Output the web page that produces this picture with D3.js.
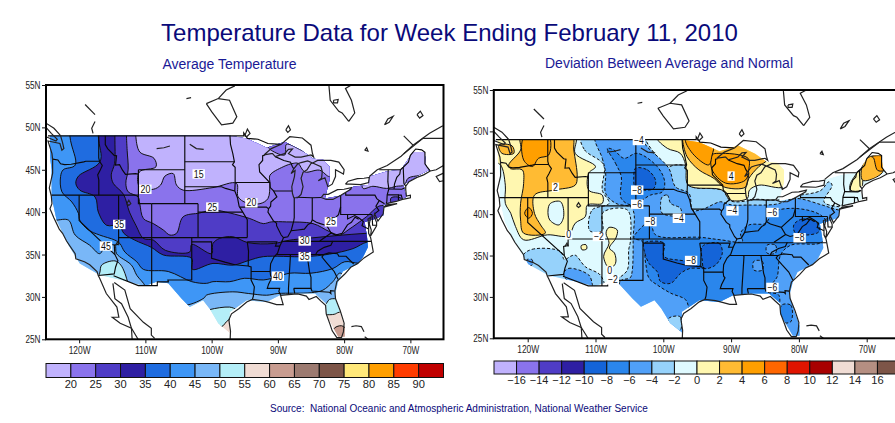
<!DOCTYPE html>
<html><head><meta charset="utf-8">
<script src="https://cdnjs.cloudflare.com/ajax/libs/d3/7.8.5/d3.min.js"></script>
<style>html,body{margin:0;padding:0;background:#fff;overflow:hidden}svg{display:block}text{font-family:"Liberation Sans",Arial,sans-serif}</style>
</head><body><svg id="c" width="895" height="423"></svg>
<script>
const titleText="Temperature Data for Week Ending February 11, 2010";
const leftTitle="Average Temperature";
const rightTitle="Deviation Between Average and Normal";
const sourceText="Source:  National Oceanic and Atmospheric Administration, National Weather Service";
const lonTicks=[-120,-110,-100,-90,-80,-70];
const latTicks=[25,30,35,40,45,50,55];
const tempLevels=[20,25,30,35,40,45,50,55,60,65,70,75,80,85,90];
const devLevels=[-16,-14,-12,-10,-8,-6,-4,-2,0,2,4,6,8,10,12,14,16];
const tempColors=["#c0b2fd","#8a73ec","#4f3cc6","#2e1fa3","#1f6ce0","#3e96f6","#79b7f7","#b4eef8","#f0dcd4","#c89c90","#9c7a70","#7d5548","#ffe87a","#ff9f00","#ff3c00","#c00000"];
const devColors=["#c0b2fd","#8a73ec","#4f3cc6","#2e1fa3","#1464d8","#2a86ec","#50a0f8","#96d2fb","#dffaff","#fff7b0","#ffbb33","#ff9f00","#ff6600","#e01400","#a80000","#f0dcd4","#b58f82","#7d5548"];

const usMask=[[-124.4,49],[-97.25,49],[-94.7,48.7],[-91.7,47.6],[-88.95,48.3],[-86.45,47.3],[-84.7,46.3],[-83.2,46.2],[-82.2,45.35],[-82.2,43.8],[-82.9,41.6],[-80.2,42],[-78.65,43],[-76.4,43.2],[-76.15,44.2],[-73.6,44.8],[-71.4,45],[-71.1,45.35],[-69.6,47.1],[-67.85,47.1],[-67.6,45.35],[-67.1,45],[-69.1,44.2],[-71.1,43.2],[-70.6,41.8],[-74.1,40.8],[-74.1,39.6],[-75.4,39.2],[-76.9,38.85],[-76.55,37.1],[-76.4,35.9],[-77.15,34.7],[-77.9,33.95],[-80.2,33],[-80.9,31.8],[-81.4,30.2],[-80.65,28.2],[-79.9,26.5],[-79.9,25.3],[-80.9,25.3],[-82.7,27.85],[-82.7,29.2],[-84.4,30.4],[-87.45,30.4],[-89.7,30.2],[-91.7,29.4],[-94.7,29.6],[-97.25,28.2],[-97.25,25.7],[-99,26.85],[-100.3,28.6],[-101.3,29.6],[-103.3,28.8],[-104.55,29.8],[-106.55,31.6],[-108.3,31.8],[-110.1,31.3],[-112.6,31.8],[-116.9,32.6],[-119.9,33.95],[-121.6,36.1],[-123.4,39.05],[-124.15,41.8],[-124.15,45],[-124.4,46.5]];

// Average temperature: nested regions, warmest first
const tMiami=[[-81.6,26.2],[-80.4,26.6],[-79.5,26],[-80,24.8],[-81.2,24.8]];
const tBelow55=[[-126,50],[-64,50],[-64,28.2],[-80.7,28.2],[-81.5,27.95],[-84,27.9],[-96,27.5],[-97.5,27.25],[-98.5,26.5],[-99.3,26.85],[-100,26],[-126,26]];
const tBelow50=[[-126,50],[-64,50],[-64,30],[-81,29.8],[-82.2,29.7],[-83,29],[-90,28],[-96,28.5],[-97.3,28.8],[-100.3,28.5],[-102,28],[-112,28],[-112.6,31.5],[-113.7,33.75],[-114.6,34.25],[-116.6,33.75],[-116.9,32.8],[-118,31],[-126,31]];
const tBelow45=[[-126,39.1],[-123.6,39.05],[-121.6,39.05],[-120.6,37.3],[-118.4,36.1],[-116.9,35.1],[-116.1,35.9],[-114.6,36.1],[-114.35,35.1],[-112.1,33.75],[-111.3,32.55],[-110,31.2],[-110,29.5],[-104,29],[-101.1,29.9],[-100.8,30.2],[-96.8,30.6],[-94.4,30.4],[-91.7,30.2],[-90,30.4],[-84.95,30.5],[-83.2,30.8],[-81.7,31.8],[-80.7,32.8],[-79.9,32.6],[-76,33],[-70,33],[-60,60],[-126,60]];
const tBelow40=[[-121.4,49],[-120.6,45.55],[-122.4,45],[-122.8,44.2],[-122.6,42.4],[-121.1,41.2],[-120.1,39.85],[-119.9,39.05],[-118.6,37.9],[-116.9,37.3],[-114.6,36.7],[-113.85,36.3],[-113.1,35.3],[-111.3,34.15],[-110.3,33.25],[-106.55,33],[-103,31.8],[-100.8,31.6],[-99.8,31.8],[-97.25,31.8],[-95,32.2],[-92.2,32],[-90,32.4],[-88.2,32.8],[-85,32.8],[-81.7,33.35],[-79.9,34.15],[-77.65,33.95],[-70,34],[-60,60],[-121.4,60]];
const tBelow35=[[-117.1,49],[-116.85,45.95],[-120.1,44.25],[-120.5,43.4],[-119.9,42.6],[-117.6,41.8],[-117.1,40],[-115.85,38.45],[-113.95,38.45],[-113.25,37.5],[-111.6,36.7],[-109.1,35.85],[-107.3,34.95],[-103,34.55],[-102.9,33.25],[-99.8,33.95],[-96.75,33.75],[-94.4,34.3],[-92.2,34.75],[-85.95,34.75],[-82.2,35.05],[-78.65,35.7],[-76.4,36.5],[-70,36.5],[-60,60],[-117.1,60]];
const tBelow30=[[-114.6,49],[-114.65,45.75],[-115.15,44.4],[-114.85,43.4],[-113.3,42.1],[-112.4,40],[-111.4,38.4],[-110.3,36.9],[-108.8,36.7],[-107,35.5],[-103.3,35.3],[-103,36.2],[-100,35.1],[-99.8,36.3],[-98.8,36.9],[-96.8,37.1],[-94.5,36.4],[-90.7,36.3],[-88.2,36.7],[-85.7,36.9],[-76.65,37.5],[-70,37.6],[-60,60],[-114.6,60]];
const tBelow25=[[-112.85,49],[-112.75,47.3],[-112.6,45],[-112.95,43.4],[-112.6,42.4],[-111.1,41.8],[-110.85,41],[-110.3,39.25],[-108.8,38.65],[-107.3,37.9],[-106.3,37.3],[-105.3,37.5],[-104.3,39.45],[-101.8,39.9],[-99.8,40.25],[-97.25,39.9],[-94.25,39.25],[-92.2,38.65],[-91,38.85],[-88.7,38.85],[-84.7,38.65],[-82.2,37.7],[-80.65,37.3],[-79.4,37.9],[-76.65,39.45],[-74.9,40.65],[-74.1,40.8],[-70,40.8],[-60,60],[-112.85,60]];
const tBelow20a=[[-111.45,49],[-110.85,47.1],[-108.7,46.35],[-108.4,45.35],[-110.9,44.75],[-110.9,43],[-108.8,42.7],[-107.7,43.2],[-107.05,44.25],[-105.8,44.55],[-105.3,43.2],[-104.3,42.6],[-99.8,42.9],[-96.25,43.4],[-96,41.8],[-94.75,41.1],[-92.7,41],[-91.5,41.6],[-91.2,43.4],[-91.2,44.35],[-89.2,45.35],[-87.7,45.75],[-86.95,45.75],[-85.95,44.75],[-83.7,44.95],[-82.2,44.2],[-81.2,45],[-82.2,46.15],[-84.7,46.6],[-86.7,47.4],[-88.7,48],[-88.95,46.75],[-91,47.3],[-91.7,47.9],[-92.2,49.3],[-111.45,49.3]];
const tBelow20b=[[-77.15,42.8],[-75.65,43.05],[-73.6,42.8],[-72.1,43.05],[-70.9,43.2],[-70.35,44],[-68.6,44.35],[-67.1,44.75],[-66,46],[-66,48],[-72,48],[-76,46],[-77.15,44]];
const tPatchCT=[[-72.9,41.7],[-71.5,41.7],[-71.3,41.2],[-72.9,41.1]];
const tempRings=[tMiami,tBelow55,tBelow50,tBelow45,tBelow40,tBelow35,tBelow30,tBelow25,tBelow20a,tBelow20b,tPatchCT];
const tempRingValues=[62,52,47,42,37,32,27,22,17,17,27];
const tempLabels=["15","20","25","20","35","45","25","30","35","40"];
const tempLabelLon=[-101.95,-110,-99.9,-94,-113.95,-115.95,-82,-85.95,-85.95,-90];
const tempLabelLat=[44.5,42.7,40.6,41.1,38.55,36,38.85,36.6,34.75,32.45];

// Deviation from normal
const dA2=[[-120.8,34.9],[-119.35,35.75],[-115.15,35.5],[-114.6,34.5],[-113.7,34.9],[-113,35.05],[-111.5,33.65],[-109.3,32.65],[-108.8,31.25],[-115,30],[-121,30]];
const dMain2=[[-112.1,49.4],[-111.6,47.75],[-108.8,45.95],[-109,42.9],[-108,41.3],[-110.5,40.5],[-110.85,38],[-109,38],[-108.9,40.2],[-105.3,40.5],[-104.85,36.8],[-105.1,35.7],[-105.3,33.25],[-106.8,32],[-106.8,31.4],[-106.8,25],[-60,25],[-60,40.9],[-74.1,40.9],[-76.3,41.5],[-75.1,43.5],[-75.6,43.9],[-76.8,42.85],[-80.5,42.2],[-83.2,41.7],[-86.4,41.8],[-87.6,41.6],[-90.1,41.6],[-91.3,42.85],[-96.3,43.5],[-96.7,45.75],[-98.2,45.95],[-99.4,45.75],[-100.9,46.95],[-102.6,49],[-102.6,49.4]];
const dMain4=[[-110,49.4],[-109,46.75],[-108.5,44.95],[-108.5,42.5],[-107,41.3],[-104.6,40.7],[-104.45,36.9],[-104.6,33.05],[-104.9,32.3],[-106.3,31.9],[-106.3,25],[-60,25],[-60,39.5],[-74.1,40.5],[-76.55,41.1],[-80.5,41.9],[-83.4,41.2],[-87.6,41.1],[-89.8,41.1],[-90.8,41.3],[-91.55,41.5],[-94.5,40.5],[-95.7,40.5],[-96.2,42.5],[-98.2,43.3],[-99.2,45.55],[-102.4,48.15],[-103.6,49.4]];
const dAz4=[[-114.7,32.85],[-113.95,33.45],[-111,32.65],[-110.5,31.65],[-110.5,31.25],[-114,31.85]];
const dCa4=[[-120.1,34.5],[-119.35,34.5],[-119.35,33.85],[-120.1,33.85]];
const dNorth6=[[-108.25,47.95],[-107.05,46.15],[-106.2,44.55],[-106.2,41.9],[-104.6,41.1],[-101.9,42.3],[-100.15,42.7],[-99.8,43.95],[-100.9,45.75],[-103.85,47.35],[-105.8,46.75],[-107.3,47.75]];
const dSouth6=[[-101.9,39.2],[-102.85,38.7],[-104.35,37.1],[-103.1,36.7],[-102.6,34.05],[-102.1,32.25],[-100.9,31.45],[-98.9,30.45],[-96.7,29.65],[-96.2,28.4],[-96,27],[-84,27],[-82.95,30.2],[-84.7,30.65],[-83.7,31.85],[-83.2,32.45],[-82.7,35.07],[-81.2,36.25],[-77.05,36.45],[-76.3,36.9],[-75.55,38.5],[-76.8,39.9],[-80.75,40.7],[-83.9,40.2],[-84.9,38.9],[-87.35,38.7],[-88.6,37.7],[-88.35,36.7],[-91.55,36.9],[-94.5,37.2],[-101.15,37.5]];
const dPocket2=[[-100.15,42.1],[-99.4,42.3],[-98.9,41.3],[-97.45,40.7],[-97.45,39.9],[-100.15,40.1],[-100.4,41.3]];
const dDak8=[[-104.1,45.55],[-102.35,45.35],[-101.15,44.1],[-101.4,43.1],[-102.85,42.9],[-104.1,43.1],[-104.35,44.55]];
const dTex8=[[-102.85,36.5],[-99.9,36.5],[-99.9,34.9],[-96.7,34.3],[-94,33.45],[-96,33.45],[-97.45,32.85],[-98.9,31.65],[-100.4,31.85],[-100.9,33.05],[-102.1,34.05],[-102.85,35.7]];
const dArk8=[[-94.25,36.1],[-91.8,36.5],[-91.3,35.3],[-92.3,33.85],[-94,33.45],[-94.25,34.45]];
const dVa8=[[-80.75,38.7],[-79.5,39.4],[-77.3,38.9],[-77.05,37.9],[-78.5,37.5],[-80.5,37.7]];
const dTn4=[[-84.7,36.25],[-83.45,36.25],[-83.45,35.3],[-84.7,35.3]];
const dAl4=[[-86.65,34.3],[-85.4,34.3],[-85.4,33.25],[-86.65,33.25]];
const dFl6=[[-82.55,29],[-81.2,29],[-81.2,27],[-82.55,27]];
const dTx2=[[-99.2,27.4],[-97.5,27.6],[-97.5,26],[-99,26.2]];
const dWest0=[[-125.25,49.4],[-113,49.4],[-113,47.35],[-110,45.75],[-111,44.95],[-111,42.9],[-109,42.3],[-109,41.3],[-111.2,41.1],[-111.5,39.7],[-113,38.9],[-114,37.4],[-117.1,37.5],[-120.6,36.9],[-121.8,38.5],[-122.5,40.1],[-123.3,41.3],[-123.3,43.5],[-124,45.95],[-125.25,46.5]];
const dNevHole=[[-116.65,41.3],[-115.15,41.5],[-114.7,39.7],[-115.4,38.7],[-116.75,39.3],[-117,40.5]];
const dWest2=[[-121,49.4],[-121.05,47.75],[-122.8,45.95],[-122.55,45.5],[-120.8,45.35],[-120.6,43.7],[-121.05,41.3],[-121.05,39.3],[-120.6,37.7],[-117.4,37.7],[-118.1,38.7],[-119,40.1],[-119,42.3],[-116.15,42.9],[-113,43.5],[-112.7,44.5],[-113.2,47.75],[-113.45,49.4]];
const dCoast2=[[-124.25,48.35],[-122.3,48.25],[-122.05,47.35],[-123.8,47.35]];
const dWest4=[[-120.5,49.4],[-120.6,46.55],[-119.3,45.75],[-118.4,46.75],[-116.9,47.15],[-116.9,49.4]];
const dNev4=[[-120.45,40.1],[-119.85,40.8],[-119.3,40.1],[-119.85,39.5]];
const dNm0=[[-108.45,37.7],[-108,38.4],[-106.8,38.1],[-107,37.1],[-107.95,35.9],[-107.2,35.3],[-107.05,34.05],[-107.95,33.45],[-108.8,34.9],[-108,36.5]];
const dAz0=[[-112.1,36.2],[-111.4,36.3],[-111.3,35.8],[-112,35.7]];
const dMid0=[[-100.9,49.2],[-99.4,47.95],[-97.5,47.35],[-96.7,45.95],[-96.3,43.5],[-91.3,42.9],[-90.1,41.7],[-87.6,41.9],[-87.3,42.9],[-85.9,43.5],[-82.2,43.3],[-81,45.3],[-83.4,47.35],[-86.9,48.6],[-93.3,49.6],[-98.19,49.6]];
const dMid2=[[-97.2,49.15],[-96.5,46.95],[-94.75,45.35],[-92.5,44.3],[-91.1,43.3],[-87.9,43.25],[-87.4,44.3],[-85.9,45.75],[-84.65,46.55],[-84.4,47.35],[-86.9,48.35],[-92.3,49.4],[-97.2,49.6]];
const dMid4a=[[-92.8,47.15],[-92.8,45.35],[-90.8,43.75],[-87.9,44.1],[-87.4,45.35],[-87.5,46.75],[-91.8,47.35]];
const dMid4b=[[-96.7,49.15],[-95.7,47.35],[-93.3,45.95],[-92.8,47.15],[-92.5,48.35],[-92.8,49.15]];
const dMe0=[[-72.4,42.9],[-72.4,43.7],[-70.9,45.3],[-70.6,44.5],[-70.9,42.9]];
const dMe2=[[-69.4,47],[-67.5,47],[-67.5,45.3],[-68.5,44.5],[-70.6,44.1],[-70.6,46]];
const dMe4=[[-69.3,46.95],[-67.6,46.95],[-67.5,45.3],[-68.4,45.3],[-69,46.8]];
const devRings=[dA2,dMain2,dMain4,dAz4,dCa4,dNorth6,dSouth6,dPocket2,dDak8,dTex8,dArk8,dVa8,dTn4,dAl4,dFl6,dTx2,dWest0,dNevHole,dWest2,dCoast2,dWest4,dNev4,dNm0,dAz0,dMid0,dMid2,dMid4a,dMid4b,dMe0,dMe2,dMe4];
const devRingValues=[-3,-3,-5,-5,-5,-7,-7,-3,-9,-9,-9,-9,-5,-5,-7,-3,1,-1,3,3,5,5,1,1,1,3,5,5,1,3,5];
const devLabels=["−4","2","−8","−6","−8","−4","0","−2","−4","−6","4","−8","0","−2","−8","−6"];
const devLabelLon=[-103.6,-115.9,-103.85,-103.85,-101.9,-97.7,-113.95,-109.5,-89.8,-83.9,-90,-79.9,-107.9,-107.45,-95.9,-83.9];
const devLabelLat=[48.9,43.25,42.9,41.2,39.1,39.5,37.5,37.3,40.4,40.2,44.6,37.15,33.2,32.05,34.4,31.15];

const stateLines=[
[[-124.7,49],[-95.15,49],[-95.15,49.35],[-94.6,48.7],[-93,48.6],[-91.5,48.1],[-89.6,48]],
[[-124,46.25],[-123.2,46.15],[-122.8,45.7],[-122.2,45.6],[-121.2,45.65],[-119.3,45.93],[-119,46],[-116.92,46]],
[[-117.04,49],[-117.04,46.4],[-116.92,46],[-116.5,45.5],[-116.85,44.9],[-117.2,44.4],[-117.03,43.8],[-117.03,42]],
[[-124.2,42],[-111.05,42]],[[-120,42],[-120,39],[-114.6,35],[-114.15,34.3],[-114.5,33.5],[-114.7,32.72],[-117.12,32.53]],
[[-114.04,42],[-114.04,36.2],[-114.7,36.1],[-114.6,35]],
[[-116.05,49],[-116.05,47.98],[-115.7,47.5],[-114.7,46.7],[-114.35,46.65],[-114.5,45.55],[-113.9,45.6],[-113.45,44.95],[-113,44.45],[-111.5,44.55],[-111.05,44.48]],
[[-111.05,45],[-111.05,41],[-109.05,41]],[[-111.05,45],[-104.05,45]],[[-109.05,41],[-102.05,41]],[[-104.05,49],[-104.05,41]],
[[-104.05,45.94],[-96.56,45.94]],[[-104.05,43],[-98.5,43],[-97.9,42.8],[-96.5,42.5]],[[-102.05,41],[-102.05,37]],[[-102.05,40],[-95.3,40]],
[[-114.05,37],[-94.62,37]],[[-109.05,41],[-109.05,31.33]],[[-103,37],[-103,32],[-106.6,32],[-106.53,31.78],[-108.2,31.78],[-108.2,31.33],[-111.07,31.33],[-114.8,32.5]],
[[-103,36.5],[-100,36.5],[-100,34.56],[-98,34.1],[-96.5,33.8],[-94.5,33.65],[-94.04,33.55],[-94.04,31.99],[-93.55,31.2],[-93.7,30.1],[-93.85,29.7]],
[[-94.62,36.5],[-94.43,35.4],[-94.48,33.64]],[[-94.62,36.5],[-90.15,36.5],[-90.37,36],[-89.7,36]],[[-94.04,33],[-91.17,33]],
[[-94.62,37],[-94.62,39.1],[-95.3,40],[-95.85,40.7],[-96.1,41.7],[-96.5,42.5],[-96.45,43.5],[-96.45,45.3],[-96.85,45.6],[-96.56,45.94],[-96.8,46.9],[-97.15,48],[-97.23,49]],
[[-95.77,40.6],[-91.73,40.6],[-91.4,40.4]],[[-96.45,43.5],[-91.22,43.5]],
[[-92,46.7],[-92.3,46.65],[-92.3,46.1],[-92.85,45.6],[-92.75,44.75],[-91.22,43.5],[-91.15,42.9],[-90.65,42.5],[-90.15,41.8],[-91.05,41.2],[-91.1,40.7],[-91.4,40.4],[-91.5,40],[-90.7,39],[-90.2,38.7],[-90.2,38.4],[-89.5,37.3],[-89.15,37],[-89.4,36.5],[-89.7,36],[-90.05,35.15],[-90.6,34.7],[-91.1,33.9],[-91.17,33],[-91.1,32.5],[-90.9,32.3],[-91.4,31.5],[-91.6,31],[-89.73,31],[-89.85,30.65],[-89.55,30.18]],
[[-90.2,35],[-84.3,35],[-84,35.4],[-83,35.85],[-82,36.1],[-81.7,36.6]],[[-88.2,35],[-88.1,34.9],[-88.4,31],[-88.4,30.3]],[[-87.6,31],[-85,31],[-84.86,30.7],[-82.2,30.55],[-82,30.4],[-82.05,30.75],[-81.45,30.7]],[[-87.6,31],[-87.45,30.4]],
[[-85.6,35],[-85.2,32.85],[-85,32.3],[-85,31]],
[[-89.5,36.55],[-75.9,36.55]],
[[-89.15,37],[-88.5,37.1],[-88,37.8],[-87,37.9],[-86,38],[-85.5,38.5],[-85,38.75],[-84.8,39.1],[-84.2,38.8],[-83.6,38.65],[-82.6,38.4],[-81.8,39],[-80.85,39.7],[-80.52,40.64]],
[[-87.53,41.7],[-87.53,39.35],[-87.6,39],[-88,37.8]],[[-84.81,39.1],[-84.81,41.7]],[[-87.2,41.76],[-84.8,41.7],[-83.45,41.73]],[[-90.65,42.5],[-87.8,42.5]],
[[-90.4,46.55],[-89.1,46.1],[-88.1,45.9],[-87.8,45.35],[-87.6,45.1]],
[[-80.52,42],[-80.52,39.72],[-75.79,39.72]],[[-79.76,42.27],[-79.76,42],[-75.35,42],[-75.07,41.6],[-74.7,41.36],[-73.9,41]],[[-74.7,41.36],[-75.2,40.7],[-74.75,40.2],[-75.4,39.8]],[[-75.79,39.72],[-75.7,38.46],[-75.05,38.45]],
[[-79.48,39.72],[-79.48,39.2],[-78.4,39.6],[-77.75,39.3],[-77.1,38.9],[-77.3,38.4],[-76.3,38]],[[-81.97,37.54],[-81.3,37.3],[-80.3,37.5],[-79.5,38.5],[-78.9,38.8],[-78.35,39.4],[-77.8,39.15]],[[-83.68,36.6],[-81.97,37.54],[-82.6,38.4]],
[[-83.1,35],[-82.3,35.2],[-81,35.1],[-80.8,34.8],[-79.7,34.8],[-78.55,33.86]],[[-84.3,35],[-83.1,35],[-83.35,34.7],[-82.5,33.9],[-81.5,33],[-80.9,32.05]],
[[-74.7,45],[-71.5,45]],[[-73.35,45],[-73.4,43.6],[-73.25,42.75],[-73.5,42.05],[-73.55,41.3],[-73.65,41]],[[-73.27,42.73],[-71.3,42.7],[-70.8,42.87]],[[-73.5,42.03],[-71.8,42.03],[-71.8,41.35]],[[-71.8,42],[-71.38,42],[-71.2,41.5]],
[[-71.5,45],[-71.6,44.5],[-72.05,44.1],[-72.4,43.3],[-72.46,42.73]],[[-71.08,45.3],[-70.98,43.4],[-70.7,43.07]],[[-71.5,45],[-71.08,45.3],[-70.3,45.9],[-70,46.7],[-69.2,47.45],[-68.3,47.35],[-67.8,47.07],[-67.8,45.7],[-67.45,45.3],[-67,44.85]]
];
const coastLines=[
[[-125,50.5],[-123.8,49.9],[-123,49.2],[-122.8,49],[-122.5,48.2],[-122.3,47.5],[-122.6,47.3],[-122.9,48.1],[-124.7,48.4],[-124.1,46.9],[-124,46.2],[-124,44.6],[-124.5,42.85],[-124.2,41.9],[-124.1,41],[-124.4,40.4],[-123.8,39.3],[-123,38],[-122.5,37.5],[-121.9,36.6],[-120.6,35.1],[-120.5,34.5],[-119.2,34.15],[-118.4,33.8],[-117.3,33],[-117.1,32.5],[-116.9,32.2],[-115.9,30.4],[-114.3,28.8],[-114,27.6],[-115,27.6],[-113.8,26.9],[-112.1,26.3],[-111.1,25]],
[[-125,48.9],[-123.5,48.4],[-123.3,48.6],[-124.2,49.3],[-125,50]],
[[-114.9,31.6],[-114.6,29.8],[-113.6,29.2],[-112.6,27.6],[-112.1,26.3],[-112,25]],
[[-114.7,31.7],[-113.1,30.8],[-112.3,28.6],[-110.3,27],[-109.1,26.3],[-109.1,25.5],[-108.6,25.1]],
[[-97.2,25],[-97.15,25.97],[-97.4,27.3],[-97,28],[-95.9,28.6],[-94.7,29.4],[-93.85,29.7],[-92.3,29.55],[-91.3,29.35],[-90.2,29.1],[-89.2,29.1],[-89.6,30.18],[-88,30.3],[-87,30.35],[-85.7,30.1],[-85.3,29.7],[-84.2,30.05],[-83.5,29.5],[-82.8,29],[-82.7,28],[-82.1,26.7],[-81.8,26],[-81.1,25.2],[-80.4,25.2],[-80.1,25.9],[-80,26.9],[-80.6,28.4],[-81.3,29.8],[-81.4,30.7],[-81.1,31.8],[-79.9,32.7],[-79,33.5],[-78,33.9],[-77,34.6],[-75.6,35.3],[-75.9,36.6],[-76,37],[-76.3,37.5],[-76.3,38.5],[-76.4,39.2],[-76,39.4],[-76.2,38.6],[-75.9,37.9],[-76,37.2],[-75.1,38.4],[-75.1,38.8],[-75.5,39.5],[-75.4,39.8],[-74.9,38.95],[-74.1,39.8],[-74,40.5],[-74,40.7]],
[[-74,40.6],[-72,41],[-73.6,40.85],[-74,40.6]],
[[-73.65,41],[-72,41.3],[-71.2,41.5],[-70.6,41.6],[-70,41.7],[-70,42],[-70.6,41.9],[-70.7,42.65],[-70.7,43.07],[-70.2,43.6],[-69,44.1],[-68,44.4],[-67,44.85],[-66.1,45],[-65,45.5]],
[[-65,44.6],[-66.1,44.2],[-65.6,43.6],[-65,43.7]],
[[-92.1,46.75],[-91,46.9],[-90.8,46.9],[-90.4,46.55],[-89,46.9],[-88.4,47.4],[-87.8,47.45],[-88.4,46.9],[-87.4,46.5],[-86.5,46.5],[-85,46.75],[-84.6,46.5],[-84.8,47],[-85,47.9],[-86.3,48.75],[-88.2,48.9],[-89.5,48],[-91,47.5],[-92.1,46.75]],
[[-87.6,41.7],[-87,41.7],[-86.5,42.1],[-86.2,43],[-86.5,44],[-86.2,44.7],[-85.6,45],[-85,45.75],[-84.75,45.8],[-85.5,46.05],[-86.5,45.85],[-87,45.7],[-87.6,45.1],[-88,44.55],[-87.4,44.9],[-87.5,44.2],[-87.9,43],[-87.8,42.2],[-87.6,41.7]],
[[-84.75,45.8],[-83.5,45.35],[-83.3,44.8],[-83.4,44],[-83.9,43.7],[-82.9,44.05],[-82.45,43],[-81.8,43.3],[-81.3,44.2],[-81.3,45],[-80.1,44.5],[-80,45],[-80.8,45.9],[-82,46.1],[-84,46.1],[-84.75,45.8]],
[[-83.45,41.73],[-82.7,41.5],[-81.7,41.5],[-80.5,42],[-79,42.7],[-78.9,42.9],[-80,42.7],[-81,42.65],[-82.4,42.1],[-83.1,42.1],[-83.45,41.73]],
[[-79.8,43.3],[-79,43.3],[-77.5,43.25],[-76.3,43.5],[-76.2,44.1],[-77,44],[-78,43.95],[-79.4,43.65],[-79.8,43.3]],
[[-76.2,44.2],[-75,45],[-73.5,45.5],[-71.4,46.6],[-69.6,47.9],[-67.1,49.3],[-65.1,50.2]],
[[-65,48.7],[-68.1,48.7],[-71,46.9]],[[-71,49],[-69.6,47.9]],
[[-82.3,55],[-82.1,53.2],[-80.8,51.9],[-80.3,51.7],[-79.3,50.7]],[[-79.3,50.7],[-78.4,51.7],[-78.9,53.2],[-79.8,54.6],[-78.9,55]],
[[-81.6,53.2],[-80.9,53.3],[-81,52.9],[-81.6,52.9],[-81.6,53.2]],
[[-73.9,50.3],[-73.4,51],[-72.6,51.3],[-73.2,50.6],[-73.9,50.3]],[[-76.9,47.3],[-76.6,47.6],[-76.4,47.2],[-76.9,47.3]],[[-69,51.5],[-68.5,51.9],[-68.1,51.4],[-68.6,51.1],[-69,51.5]],
[[-88.8,49.7],[-88.4,50.2],[-88.1,49.7],[-88.5,49.4],[-88.8,49.7]],[[-95,49],[-94.6,49.8],[-94.2,49.3],[-94.7,48.9],[-95,49]],
[[-100.8,52.8],[-100,51.85],[-98.5,50.3],[-96.8,50.5],[-96.2,51.25],[-97.3,53.2],[-99,53.4],[-100.8,52.8]],[[-99,53.4],[-97.8,54.4],[-96.5,54.9]],
[[-119.1,52.7],[-117.6,51.5]],[[-117.6,50.7],[-118.1,49.9],[-117.9,49.3]],[[-103.8,53.4],[-103.1,53.5]],
[[-108.3,47.5],[-107.2,47.6],[-106.3,47.8]],[[-103.3,48],[-102.3,47.5],[-101.2,47.4]],
[[-112.8,41],[-112.5,41.4],[-112.2,41],[-112.5,40.8],[-112.8,41]],[[-114.5,36.1],[-114.2,36.5],[-114,36.1]],
[[-78.9,26.5],[-78.2,26.6],[-77.4,26.5],[-77,25.9]],[[-76.9,25.3],[-76.4,25]]
];

const svg=d3.select("#c");
const navy="#0a0a7a";
svg.append("text").attr("x",449.5).attr("y",41).attr("text-anchor","middle").attr("font-size",24).attr("fill",navy).text(titleText);
svg.append("text").attr("x",229.5).attr("y",69).attr("text-anchor","middle").attr("font-size",14).attr("fill","#1a1a96").text(leftTitle);
svg.append("text").attr("x",669).attr("y",68).attr("text-anchor","middle").attr("font-size",14).attr("fill","#1a1a96").text(rightTitle);
svg.append("text").attr("x",270).attr("y",412).attr("font-size",10).attr("fill",navy).attr("xml:space","preserve").style("white-space","pre").text(sourceText);

function panel(id,xr,yr,rings,values,levels,colors,labels,labelLon,labelLat,bar,ticks){
  const x=d3.scaleLinear().domain([-125,-65]).range(xr);
  const y=d3.scaleLinear().domain([25,55]).range(yr);
  const color=d3.scaleThreshold().domain(levels).range(colors);
  const straight=d3.line().x(d=>x(d[0])).y(d=>y(d[1]));
  const curved=d3.line().x(d=>x(d[0])).y(d=>y(d[1])).curve(d3.curveCatmullRomClosed.alpha(0.5));
  const defs=svg.append("defs");
  defs.append("clipPath").attr("id",id+"m").append("path").attr("d",straight(usMask)+"Z");
  defs.append("clipPath").attr("id",id+"f").append("rect").attr("x",xr[0]).attr("y",yr[1]).attr("width",xr[1]-xr[0]).attr("height",yr[0]-yr[1]);
  const g=svg.append("g").attr("clip-path",`url(#${id}f)`);
  const m=g.append("g").attr("clip-path",`url(#${id}m)`);
  m.append("path").attr("d",straight(usMask)+"Z").attr("fill",color(id==="L"?57:-1));
  m.selectAll("path.r").data(rings).join("path").attr("class","r").attr("d",d=>curved(d))
    .attr("fill",(d,i)=>color(values[i])).attr("stroke","#111").attr("stroke-width",1)
    .attr("stroke-dasharray",(d,i)=>values[i]<-1.5?"3,2":null);
  g.selectAll("path.s").data(stateLines).join("path").attr("class","s").attr("d",straight).attr("fill","none").attr("stroke","#0a0a0a").attr("stroke-width",1.15);
  g.selectAll("path.c").data(coastLines).join("path").attr("class","c").attr("d",straight).attr("fill","none").attr("stroke","#222").attr("stroke-width",1.2);
  const lab=svg.append("g").selectAll("g").data(labels).join("g").attr("transform",(d,i)=>`translate(${x(labelLon[i])},${y(labelLat[i])})`);
  lab.append("rect").attr("x",d=>-(d.length*2.6+1)).attr("y",-4.7).attr("width",d=>d.length*5.2+2).attr("height",9.4).attr("fill","#fff");
  lab.append("text").attr("text-anchor","middle").attr("y",3.5).attr("font-size",10).attr("fill","#111").attr("lengthAdjust","spacingAndGlyphs").attr("textLength",d=>d.length*4.9).text(d=>d);
  svg.append("rect").attr("x",xr[0]).attr("y",yr[1]).attr("width",xr[1]-xr[0]).attr("height",yr[0]-yr[1]).attr("fill","none").attr("stroke","#000").attr("stroke-width",2);
  const ax=svg.append("g").attr("transform",`translate(0,${yr[0]})`).call(d3.axisBottom(x).tickValues(lonTicks).tickSize(4).tickPadding(3).tickSizeOuter(0).tickFormat(d=>(-d)+"W"));
  const ay=svg.append("g").attr("transform",`translate(${xr[0]},0)`).call(d3.axisLeft(y).tickValues(latTicks).tickSize(4).tickPadding(1.5).tickSizeOuter(0).tickFormat(d=>d+"N"));
  [ax,ay].forEach(a=>{a.select(".domain").remove();a.selectAll("text").attr("font-size",11).attr("fill","#222").attr("font-family",'"Liberation Sans",Arial,sans-serif').attr("lengthAdjust","spacingAndGlyphs");a.selectAll("line").attr("stroke","#111")});
  ax.selectAll("text").attr("textLength",d=>(""+(-d)).length===3?22:17);
  ay.selectAll("text").attr("textLength",15);
  const n=colors.length;
  const cx=d3.scaleLinear().domain([0,n]).range(bar.x);
  svg.append("g").selectAll("rect").data(colors).join("rect").attr("x",(d,i)=>cx(i)).attr("y",bar.y).attr("width",cx(1)-cx(0)).attr("height",bar.h).attr("fill",d=>d).attr("stroke","#111").attr("stroke-width",1);
  svg.append("g").selectAll("text").data(ticks).join("text").attr("x",(d,i)=>cx(i+1)).attr("y",bar.y+bar.h+10).attr("text-anchor","middle").attr("font-size",11).attr("fill","#222").attr("lengthAdjust","spacingAndGlyphs").attr("textLength",d=>(""+d).length*6.2).text(d=>(""+d).replace("-","−"));
}
panel("L",[46,443.5],[339.3,85],tempRings,tempRingValues,tempLevels,tempColors,tempLabels,tempLabelLon,tempLabelLat,{x:[46,443.5],y:363.5,h:14},tempLevels);
panel("R",[493.8,900.6],[338.3,90],devRings,devRingValues,devLevels,devColors,devLabels,devLabelLon,devLabelLat,{x:[494,900],y:361,h:13},devLevels);
</script></body></html>
